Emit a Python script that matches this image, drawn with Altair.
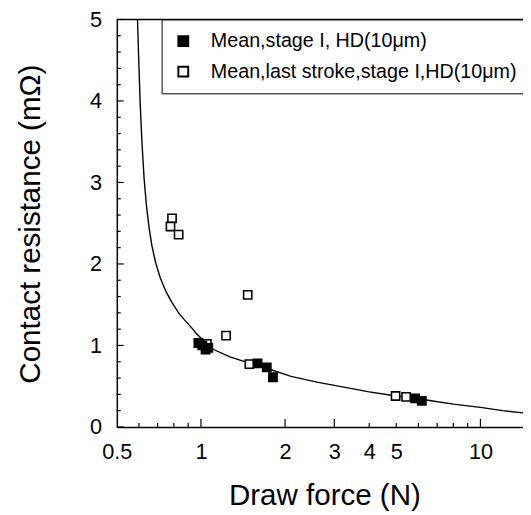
import altair as alt
import pandas as pd

# ---- data ----
series_names = ["Mean,stage I, HD(10μm)", "Mean,last stroke,stage I,HD(10μm)"]

open_force = [0.788, 0.778, 0.832, 1.05, 1.23, 1.47, 1.49, 4.97, 5.42]
open_res = [2.56, 2.46, 2.36, 1.02, 1.12, 1.62, 0.77, 0.38, 0.37]

filled_force = [0.979, 1.011, 1.039, 1.062, 1.594, 1.72, 1.81, 5.84, 6.17]
filled_res = [1.03, 1.00, 0.95, 0.97, 0.78, 0.73, 0.61, 0.35, 0.32]

curve_force = [0.593, 0.599, 0.606, 0.615, 0.626, 0.638, 0.652, 0.668, 0.688,
               0.715, 0.750, 0.790, 0.832, 0.870, 0.930, 0.966, 1.03, 1.11,
               1.27, 1.47, 1.72, 2.10, 2.60, 3.00, 4.00, 5.00, 6.40, 8.00,
               10.0, 12.0, 14.5]
curve_res = [5.00, 4.50, 3.98, 3.50, 3.05, 2.72, 2.45, 2.22, 2.02,
             1.83, 1.66, 1.52, 1.40, 1.32, 1.21, 1.14, 1.05, 0.95,
             0.86, 0.79, 0.72, 0.62, 0.55, 0.51, 0.43, 0.38, 0.33, 0.28,
             0.24, 0.20, 0.17]

x_labels = [0.5, 1, 2, 3, 4, 5, 10]
y_labels = [0, 1, 2, 3, 4, 5]
x_major_ticks = [1, 2, 3, 10]
x_minor_ticks = [0.6, 0.7, 0.8, 0.9, 4, 5, 6, 7, 8, 9]
y_major_ticks = [0, 1, 2, 3, 4, 5]
y_minor_ticks = [0.2, 0.4, 0.6, 0.8, 1.2, 1.4, 1.6, 1.8, 2.2, 2.4, 2.6, 2.8,
                 3.2, 3.4, 3.6, 3.8, 4.2, 4.4, 4.6, 4.8]

# ---- tables ----
points = pd.DataFrame({
    "F": open_force + filled_force,
    "R": open_res + filled_res,
    "series": [series_names[1]] * len(open_force) + [series_names[0]] * len(filled_force),
    "idx": list(range(len(open_force) + len(filled_force))),
})
curve = pd.DataFrame({"F": curve_force, "R": curve_res})

W, H = 412.5, 413.8
FONT = "Liberation Sans"

xscale = alt.Scale(type="log", domain=[0.5, 14.2], nice=False)
yscale = alt.Scale(domain=[0, 5], nice=False)

x_axis = alt.Axis(
    values=x_labels, format="~g", title="Draw force (N)",
    ticks=False, tickSize=0, grid=False,
    domainColor="black", domainWidth=1.5,
    labelFont=FONT, labelFontSize=22, labelColor="black",
    labelBaseline="alphabetic", labelPadding=32.5, labelFlush=False,
    titleFont=FONT, titleFontSize=30, titleFontWeight="normal", titleColor="black",
    titleBaseline="alphabetic", titleY=79, titleX=210.8,
)
y_axis = alt.Axis(
    values=y_labels, format="d", title="Contact resistance (mΩ)",
    ticks=False, tickSize=0, grid=False,
    domainColor="black", domainWidth=1.5,
    labelFont=FONT, labelFontSize=22, labelColor="black",
    labelAlign="right", labelBaseline="middle", labelPadding=15.5, labelFlush=False,
    titleFont=FONT, titleFontSize=30, titleFontWeight="normal", titleColor="black",
    titleBaseline="alphabetic", titleX=-78.5, titleY=207.3, titleAngle=270,
)


def X(field="F"):
    return alt.X(f"{field}:Q", scale=xscale, axis=x_axis)


def Y(field="R"):
    return alt.Y(f"{field}:Q", scale=yscale, axis=y_axis)


line = alt.Chart(curve).mark_line(color="black", strokeWidth=1.4, clip=True).encode(
    x=X(), y=Y())

ytick_major = alt.Chart(pd.DataFrame({"R": y_major_ticks})).mark_rule(color="black", strokeWidth=1.2).encode(
    y=Y(), x=alt.value(0), x2=alt.value(7))
ytick_minor = alt.Chart(pd.DataFrame({"R": y_minor_ticks})).mark_rule(color="black", strokeWidth=1.2).encode(
    y=Y(), x=alt.value(0), x2=alt.value(4))
xtick_major = alt.Chart(pd.DataFrame({"F": x_major_ticks})).mark_rule(color="black", strokeWidth=1.2).encode(
    x=X(), y=alt.value(H), y2=alt.value(H - 8))
xtick_minor = alt.Chart(pd.DataFrame({"F": x_minor_ticks})).mark_rule(color="black", strokeWidth=1.2).encode(
    x=X(), y=alt.value(H), y2=alt.value(H - 4))
top_border = alt.Chart(pd.DataFrame({"v": [0]})).mark_rule(color="black", strokeWidth=1.5).encode(
    x=alt.value(0), x2=alt.value(W), y=alt.value(0))

pts = alt.Chart(points).mark_point(
    shape="square", filled=True, stroke="black", strokeWidth=1.6, size=70, opacity=1
).encode(
    x=X(), y=Y(),
    fill=alt.Fill(
        "series:N",
        scale=alt.Scale(domain=series_names, range=["black", "white"]),
        legend=alt.Legend(
            title=None, orient="none", legendX=45.5, legendY=0, direction="vertical",
            symbolType="square", symbolSize=100, symbolStrokeColor="black",
            symbolStrokeWidth=2, symbolOpacity=1,
            labelFont=FONT, labelFontSize=20, labelColor="black", labelOffset=18,
            labelLimit=0, rowPadding=11, padding=12,
            strokeColor="black", fillColor="white", cornerRadius=0,
        ),
    ),
    order=alt.Order("idx:Q"),
)

chart = alt.layer(
    line, ytick_major, ytick_minor, xtick_major, xtick_minor, top_border, pts
).properties(
    width=W, height=H,
    autosize="none",
    padding={"left": 110.5, "top": 7.7, "right": 0, "bottom": 88},
    background="white",
).configure_view(strokeWidth=0)

chart.save("out.html", embed_options={"renderer": "svg", "actions": False})
